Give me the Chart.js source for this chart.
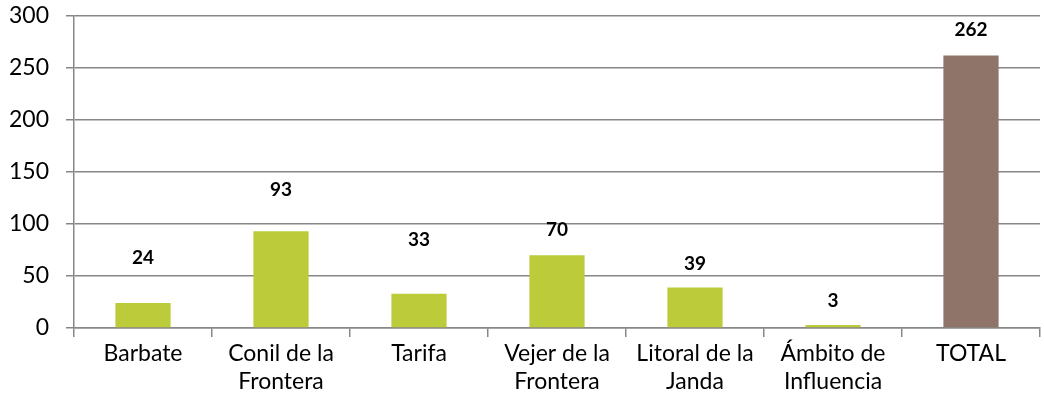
<!DOCTYPE html>
<html>
<head>
<meta charset="utf-8">
<script src="https://cdn.jsdelivr.net/npm/chart.js@4/dist/chart.umd.min.js"></script>
<style>
  html, body { margin: 0; padding: 0; background: #fff; }
  #wrap { width: 1044px; height: 409px; position: relative; }
</style>
</head>
<body>
<div id="wrap"><canvas id="chart"></canvas></div>
<script>
/* Bar chart — counts per municipality, with TOTAL bar */

const categories = [
  "Barbate",
  ["Conil de la", "Frontera"],
  "Tarifa",
  ["Vejer de la", "Frontera"],
  ["Litoral de la", "Janda"],
  ["Ámbito de", "Influencia"],
  "TOTAL"
];
const values = [24, 93, 33, 70, 39, 3, 262];
const yTicks = [0, 50, 100, 150, 200, 250, 300];

const GREEN = "#BBCB3A";
const BROWN = "#8E7469";
const GRID  = "#878787";
const TEXT  = "#000000";
const FONT  = "Lato, 'Open Sans', sans-serif";

/* label offsets above each bar (px), as placed in the original */
const labelLift = [45, 41, 54, 25, 24, 24, 26];

const valueLabels = {
  id: "valueLabels",
  afterDatasetsDraw(chart) {
    const { ctx } = chart;
    const meta = chart.getDatasetMeta(0);
    ctx.save();
    ctx.fillStyle = TEXT;
    ctx.font = "700 19px " + FONT;
    ctx.textAlign = "center";
    ctx.textBaseline = "middle";
    meta.data.forEach((bar, i) => {
      ctx.fillText(String(values[i]), bar.x, bar.y - labelLift[i]);
    });
    ctx.restore();
  }
};

new Chart(document.getElementById("chart"), {
  type: "bar",
  data: {
    labels: categories,
    datasets: [{
      data: values,
      backgroundColor: values.map((_, i) => i === values.length - 1 ? BROWN : GREEN),
      borderWidth: 0,
      categoryPercentage: 1,
      barPercentage: 0.4
    }]
  },
  options: {
    responsive: true,
    maintainAspectRatio: false,
    animation: false,
    layout: { padding: { top: 16, right: 4, left: 0, bottom: 0 } },
    plugins: {
      legend: { display: false },
      tooltip: { enabled: false }
    },
    scales: {
      x: {
        offset: true,
        grid: {
          offset: true,
          drawOnChartArea: false,
          drawTicks: true,
          tickLength: 9,
          color: GRID,
          lineWidth: 1.5
        },
        border: { color: GRID, width: 1.5 },
        ticks: {
          color: TEXT,
          font: { family: FONT, size: 23 },
          padding: 3,
          maxRotation: 0,
          autoSkip: false
        },
        afterFit(scale) { scale.height = 81; }
      },
      y: {
        min: 0,
        max: 300,
        afterBuildTicks(scale) { scale.ticks = yTicks.map(v => ({ value: v })); },
        grid: {
          color: GRID,
          lineWidth: 1.5,
          drawTicks: true,
          tickLength: 8
        },
        border: { color: GRID, width: 1.5 },
        ticks: {
          color: TEXT,
          font: { family: FONT, size: 23 },
          padding: 17
        },
        afterFit(scale) {
          scale.width = 74;
          scale.paddingTop = 0;
          scale.paddingBottom = 0;
        }
      }
    }
  },
  plugins: [valueLabels]
});
</script>
</body>
</html>
